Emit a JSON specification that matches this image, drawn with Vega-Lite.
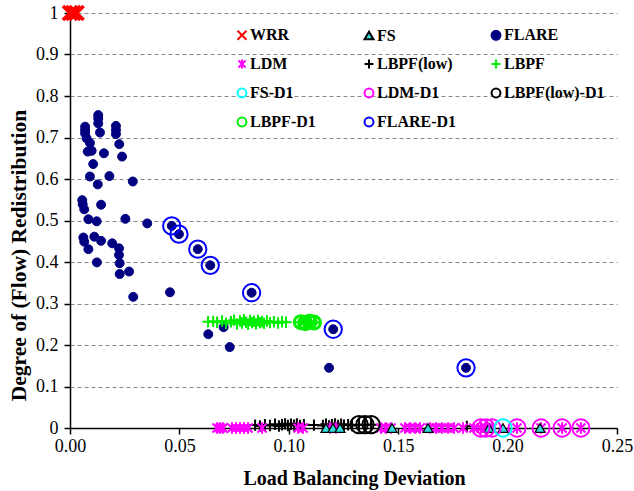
{
  "$schema": "https://vega.github.io/schema/vega-lite/v6.json",
  "width": 547,
  "height": 415,
  "autosize": "none",
  "padding": {"left": 70, "top": 13, "right": 17, "bottom": 63},
  "background": "white",
  "config": {
    "view": {"stroke": null},
    "font": "Liberation Serif",
    "axis": {"labelFont": "Liberation Serif", "titleFont": "Liberation Serif", "labelColor": "black", "titleColor": "black", "domainColor": "black", "tickColor": "black"}
  },
  "data": {"values": [
    {"s":"FLARE","x":0.0129,"y":0.754},{"s":"FLARE","x":0.0129,"y":0.746},{"s":"FLARE","x":0.0129,"y":0.734},
    {"s":"FLARE","x":0.0069,"y":0.726},{"s":"FLARE","x":0.0069,"y":0.718},{"s":"FLARE","x":0.0069,"y":0.710},
    {"s":"FLARE","x":0.0137,"y":0.712},{"s":"FLARE","x":0.0210,"y":0.728},{"s":"FLARE","x":0.0210,"y":0.718},
    {"s":"FLARE","x":0.0210,"y":0.708},{"s":"FLARE","x":0.0076,"y":0.698},{"s":"FLARE","x":0.0091,"y":0.687},
    {"s":"FLARE","x":0.0225,"y":0.684},{"s":"FLARE","x":0.0081,"y":0.666},{"s":"FLARE","x":0.0099,"y":0.668},
    {"s":"FLARE","x":0.0155,"y":0.662},{"s":"FLARE","x":0.0238,"y":0.654},{"s":"FLARE","x":0.0106,"y":0.636},
    {"s":"FLARE","x":0.0091,"y":0.606},{"s":"FLARE","x":0.0180,"y":0.607},{"s":"FLARE","x":0.0127,"y":0.587},
    {"s":"FLARE","x":0.0287,"y":0.594},{"s":"FLARE","x":0.0056,"y":0.549},{"s":"FLARE","x":0.0058,"y":0.539},
    {"s":"FLARE","x":0.0065,"y":0.527},{"s":"FLARE","x":0.0142,"y":0.538},{"s":"FLARE","x":0.0084,"y":0.503},
    {"s":"FLARE","x":0.0122,"y":0.498},{"s":"FLARE","x":0.0253,"y":0.504},{"s":"FLARE","x":0.0353,"y":0.493},
    {"s":"FLARE","x":0.0465,"y":0.487},{"s":"FLARE","x":0.0498,"y":0.467},{"s":"FLARE","x":0.0584,"y":0.431},
    {"s":"FLARE","x":0.0641,"y":0.392},{"s":"FLARE","x":0.0061,"y":0.459},{"s":"FLARE","x":0.0065,"y":0.449},
    {"s":"FLARE","x":0.0111,"y":0.461},{"s":"FLARE","x":0.0142,"y":0.451},{"s":"FLARE","x":0.0084,"y":0.431},
    {"s":"FLARE","x":0.0193,"y":0.445},{"s":"FLARE","x":0.0224,"y":0.433},{"s":"FLARE","x":0.0224,"y":0.417},
    {"s":"FLARE","x":0.0123,"y":0.399},{"s":"FLARE","x":0.0227,"y":0.397},{"s":"FLARE","x":0.0227,"y":0.371},
    {"s":"FLARE","x":0.0270,"y":0.377},{"s":"FLARE","x":0.0289,"y":0.316},{"s":"FLARE","x":0.0457,"y":0.327},
    {"s":"FLARE","x":0.0632,"y":0.226},{"s":"FLARE","x":0.0702,"y":0.243},{"s":"FLARE","x":0.0730,"y":0.195},
    {"s":"FLARE","x":0.0830,"y":0.326},{"s":"FLARE","x":0.1203,"y":0.238},{"s":"FLARE","x":0.1184,"y":0.145},
    {"s":"FLARE","x":0.1810,"y":0.145},
    {"s":"LBPF","x":0.0631,"y":0.256},{"s":"LBPF","x":0.0654,"y":0.257},{"s":"LBPF","x":0.0672,"y":0.255},
    {"s":"LBPF","x":0.0695,"y":0.258},{"s":"LBPF","x":0.0713,"y":0.252},{"s":"LBPF","x":0.0736,"y":0.256},
    {"s":"LBPF","x":0.0750,"y":0.260},{"s":"LBPF","x":0.0763,"y":0.251},{"s":"LBPF","x":0.0777,"y":0.258},
    {"s":"LBPF","x":0.0786,"y":0.253},{"s":"LBPF","x":0.0795,"y":0.261},{"s":"LBPF","x":0.0804,"y":0.255},
    {"s":"LBPF","x":0.0814,"y":0.250},{"s":"LBPF","x":0.0823,"y":0.259},{"s":"LBPF","x":0.0832,"y":0.254},
    {"s":"LBPF","x":0.0841,"y":0.257},{"s":"LBPF","x":0.0850,"y":0.251},{"s":"LBPF","x":0.0859,"y":0.259},
    {"s":"LBPF","x":0.0868,"y":0.254},{"s":"LBPF","x":0.0878,"y":0.256},{"s":"LBPF","x":0.0887,"y":0.252},
    {"s":"LBPF","x":0.0900,"y":0.258},{"s":"LBPF","x":0.0914,"y":0.254},{"s":"LBPF","x":0.0932,"y":0.256},
    {"s":"LBPF","x":0.0951,"y":0.253},{"s":"LBPF","x":0.0969,"y":0.256},{"s":"LBPF","x":0.0987,"y":0.255},
    {"s":"LBPF","x":0.1055,"y":0.255},{"s":"LBPF","x":0.1075,"y":0.253},{"s":"LBPF","x":0.1095,"y":0.256},
    {"s":"LBPF","x":0.1115,"y":0.254},
    {"s":"LBPF(low)","x":0.0846,"y":0.007},{"s":"LBPF(low)","x":0.0868,"y":0.005},{"s":"LBPF(low)","x":0.0891,"y":0.008},
    {"s":"LBPF(low)","x":0.0914,"y":0.006},{"s":"LBPF(low)","x":0.0937,"y":0.009},{"s":"LBPF(low)","x":0.0955,"y":0.005},
    {"s":"LBPF(low)","x":0.0969,"y":0.008},{"s":"LBPF(low)","x":0.0983,"y":0.010},{"s":"LBPF(low)","x":0.0996,"y":0.006},
    {"s":"LBPF(low)","x":0.1010,"y":0.009},{"s":"LBPF(low)","x":0.1024,"y":0.007},{"s":"LBPF(low)","x":0.1037,"y":0.010},
    {"s":"LBPF(low)","x":0.1051,"y":0.006},{"s":"LBPF(low)","x":0.1069,"y":0.008},{"s":"LBPF(low)","x":0.1115,"y":0.007},
    {"s":"LBPF(low)","x":0.1156,"y":0.006},{"s":"LBPF(low)","x":0.1170,"y":0.009},{"s":"LBPF(low)","x":0.1184,"y":0.005},
    {"s":"LBPF(low)","x":0.1197,"y":0.008},{"s":"LBPF(low)","x":0.1211,"y":0.010},{"s":"LBPF(low)","x":0.1225,"y":0.006},
    {"s":"LBPF(low)","x":0.1239,"y":0.009},{"s":"LBPF(low)","x":0.1252,"y":0.007},{"s":"LBPF(low)","x":0.1271,"y":0.008},
    {"s":"LBPF(low)","x":0.1289,"y":0.006},{"s":"LBPF(low)","x":0.1321,"y":0.008},{"s":"LBPF(low)","x":0.1348,"y":0.008},
    {"s":"LBPF(low)","x":0.1376,"y":0.008},{"s":"LBPF(low)","x":0.1814,"y":0.004},
    {"s":"LDM","x":0.0672,"y":0},{"s":"LDM","x":0.0686,"y":0},{"s":"LDM","x":0.0699,"y":0},
    {"s":"LDM","x":0.0740,"y":0},{"s":"LDM","x":0.0759,"y":0},{"s":"LDM","x":0.0777,"y":0},
    {"s":"LDM","x":0.0795,"y":0},{"s":"LDM","x":0.0814,"y":0},{"s":"LDM","x":0.0878,"y":0},
    {"s":"LDM","x":0.1042,"y":0},{"s":"LDM","x":0.1065,"y":0},{"s":"LDM","x":0.1188,"y":0},
    {"s":"LDM","x":0.1216,"y":0},{"s":"LDM","x":0.1421,"y":0},{"s":"LDM","x":0.1444,"y":0},
    {"s":"LDM","x":0.1467,"y":0},{"s":"LDM","x":0.1531,"y":0},{"s":"LDM","x":0.1554,"y":0},
    {"s":"LDM","x":0.1577,"y":0},{"s":"LDM","x":0.1600,"y":0},{"s":"LDM","x":0.1645,"y":0},
    {"s":"LDM","x":0.1673,"y":0},{"s":"LDM","x":0.1700,"y":0},{"s":"LDM","x":0.1728,"y":0},
    {"s":"LDM","x":0.1755,"y":0},{"s":"LDM","x":0.1796,"y":0},{"s":"LDM","x":0.1846,"y":0},
    {"s":"LDM","x":0.1878,"y":0},{"s":"LDM","x":0.1901,"y":0},{"s":"LDM","x":0.1929,"y":0},
    {"s":"LDM","x":0.2043,"y":0},{"s":"LDM","x":0.2153,"y":0},{"s":"LDM","x":0.2249,"y":0},
    {"s":"LDM","x":0.2335,"y":0},
    {"s":"FS","x":0.1170,"y":0},{"s":"FS","x":0.1202,"y":0},{"s":"FS","x":0.1234,"y":0},
    {"s":"FS","x":0.1472,"y":0},{"s":"FS","x":0.1636,"y":0},{"s":"FS","x":0.1915,"y":0},
    {"s":"FS","x":0.1979,"y":0},{"s":"FS","x":0.2148,"y":0},
    {"s":"WRR","x":0.0,"y":1},{"s":"WRR","x":0.0015,"y":1},{"s":"WRR","x":0.003,"y":1},
    {"s":"LBPF-D1","x":0.1055,"y":0.255},{"s":"LBPF-D1","x":0.1075,"y":0.253},{"s":"LBPF-D1","x":0.1095,"y":0.256},
    {"s":"LBPF-D1","x":0.1115,"y":0.254},
    {"s":"LBPF(low)-D1","x":0.1321,"y":0.008},{"s":"LBPF(low)-D1","x":0.1348,"y":0.008},{"s":"LBPF(low)-D1","x":0.1376,"y":0.008},
    {"s":"LDM-D1","x":0.1878,"y":0},{"s":"LDM-D1","x":0.1901,"y":0},{"s":"LDM-D1","x":0.1929,"y":0},
    {"s":"LDM-D1","x":0.2043,"y":0},{"s":"LDM-D1","x":0.2153,"y":0},{"s":"LDM-D1","x":0.2249,"y":0},
    {"s":"LDM-D1","x":0.2335,"y":0},
    {"s":"FS-D1","x":0.1979,"y":0},
    {"s":"FLARE-D1","x":0.0465,"y":0.487},{"s":"FLARE-D1","x":0.0498,"y":0.467},{"s":"FLARE-D1","x":0.0584,"y":0.431},
    {"s":"FLARE-D1","x":0.0641,"y":0.392},{"s":"FLARE-D1","x":0.0830,"y":0.326},{"s":"FLARE-D1","x":0.1203,"y":0.238},
    {"s":"FLARE-D1","x":0.1810,"y":0.145}
  ]},
  "mark": {"type": "point", "clip": false, "opacity": 1},
  "encoding": {
    "x": {"field": "x", "type": "quantitative", "scale": {"domain": [0, 0.25], "nice": false, "zero": false},
      "axis": {"values": [0, 0.05, 0.1, 0.15, 0.2, 0.25], "format": ".2f", "grid": false, "title": "Load Balancing Deviation",
        "labelFontSize": 18, "titleFontSize": 20, "titleFontWeight": "bold", "tickSize": 6, "tickWidth": 1.5, "domainWidth": 1.5,
        "labelPadding": 3, "titlePadding": 13, "titleX": 284, "labelFlush": false}},
    "y": {"field": "y", "type": "quantitative", "scale": {"domain": [0, 1], "nice": false},
      "axis": {"values": [0, 0.1, 0.2, 0.3, 0.4, 0.5, 0.6, 0.7, 0.8, 0.9, 1], "format": ".1~f", "grid": true, "gridDash": [4, 3], "gridColor": "#888888", "gridWidth": 1,
        "title": "Degree of (Flow) Redistribution", "labelFontSize": 18, "titleFontSize": 21.5, "titleFontWeight": "bold", "tickSize": 6, "tickWidth": 1.5, "domainWidth": 1.5,
        "labelPadding": 6, "titlePadding": 5, "titleY": 242, "labelFlush": false}},
    "shape": {"field": "s", "type": "nominal",
      "scale": {"domain": ["WRR","LDM","FS-D1","LBPF-D1","FS","LBPF(low)","LDM-D1","FLARE-D1","FLARE","LBPF","LBPF(low)-D1"],
        "range": ["M-1,-1L1,1M1,-1L-1,1","M-0.8,-0.8L0.8,0.8M0.8,-0.8L-0.8,0.8M0,-1L0,1","circle","circle","triangle-up","M-1,0L1,0M0,-1L0,1","circle","circle","circle","M-1,0L1,0M0,-1L0,1","circle"]},
      "legend": {"title": null, "orient": "none", "legendX": 164, "legendY": 14, "columns": 3, "gridAlign": "all", "columnPadding": 9, "rowPadding": 11,
        "labelFont": "Liberation Serif", "labelFontSize": 16, "labelFontWeight": "bold", "labelColor": "black", "symbolSize": 80, "symbolStrokeWidth": 2, "labelOffset": 0, "labelLimit": 200}},
    "stroke": {"field": "s", "type": "nominal",
      "scale": {"domain": ["WRR","LDM","FS-D1","LBPF-D1","FS","LBPF(low)","LDM-D1","FLARE-D1","FLARE","LBPF","LBPF(low)-D1"],
        "range": ["#ff0000","#ff00ff","#00ffff","#00ee00","#000000","#000000","#ff00ff","#0000ff","#000080","#00ee00","#000000"]}},
    "fill": {"field": "s", "type": "nominal",
      "scale": {"domain": ["WRR","LDM","FS-D1","LBPF-D1","FS","LBPF(low)","LDM-D1","FLARE-D1","FLARE","LBPF","LBPF(low)-D1"],
        "range": ["transparent","transparent","transparent","transparent","#33dddd","transparent","transparent","transparent","#000080","transparent","transparent"]}},
    "size": {"condition": [
        {"test": "datum.s == 'LBPF-D1'", "value": 170},
        {"test": "indexof(datum.s, '-D1') >= 0", "value": 300},
        {"test": "datum.s == 'WRR'", "value": 200},
        {"test": "datum.s == 'FLARE'", "value": 80},
        {"test": "datum.s == 'FS'", "value": 100}
      ], "value": 130},
    "strokeWidth": {"condition": [
        {"test": "datum.s == 'WRR'", "value": 3.5},
        {"test": "datum.s == 'FLARE'", "value": 1},
        {"test": "datum.s == 'FS'", "value": 1.2},
        {"test": "datum.s == 'LBPF-D1'", "value": 3}
      ], "value": 2}
  }
}
